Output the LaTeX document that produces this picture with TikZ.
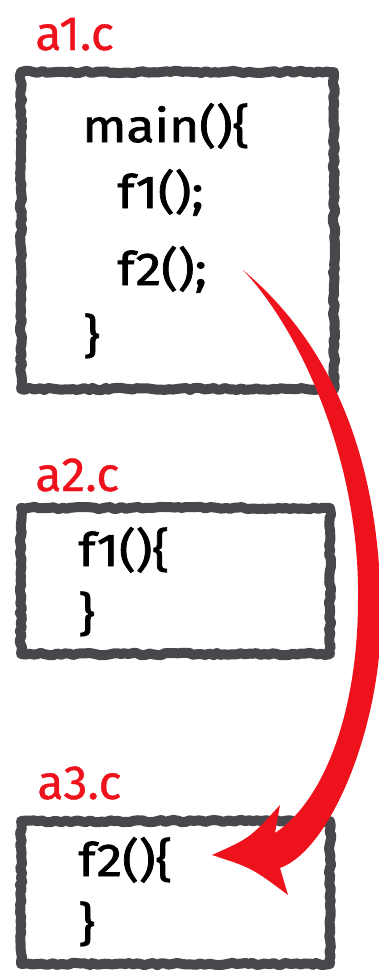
\documentclass[tikz,border=0pt]{standalone}
\usepackage{fontspec}
\setmainfont{Fira Sans}
\newfontfamily\codefont[FakeStretch=1.12,FakeBold=1.6]{Fira Sans}
\newfontfamily\namefont[FakeBold=0.8]{Fira Sans}
\usetikzlibrary{positioning,decorations.pathmorphing}
\definecolor{boxgray}{RGB}{72,72,76}
\definecolor{callred}{RGB}{238,18,28}

\begin{document}
\begin{tikzpicture}[x=0.5pt,y=-0.5pt,
  filebox/.style={draw=boxgray,line width=5pt,line join=round,
    decorate,decoration={random steps,segment length=2pt,amplitude=0.6pt}},
  filename/.style={anchor=base west,inner sep=0,text=callred,
    font=\namefont\fontsize{24}{24}\selectfont},
  codeline/.style={anchor=base west,inner sep=0,
    font=\codefont\fontsize{23}{23}\selectfont}]
  \useasboundingbox (0,0) rectangle (379,970);
  % the three source files
  \draw[filebox] (21,72) rectangle (334,389);
  \draw[filebox] (21,508) rectangle (330,654);
  \draw[filebox] (21,821) rectangle (330,964);
  \node[filename] (a1name) at (35,50) {a1.c};
  \node[filename] (a2name) at (35,491) {a2.c};
  \node[filename] (a3name) at (37,799) {a3.c};
  % a1.c
  \node[codeline] (mainhead) at (82,142) {main()\{};
  \node[codeline] (f1call) at (117,208) {f1();};
  \node[codeline] (f2call) at (117,285) {f2();};
  \node[codeline] (mainend) at (83,352) {\}};
  % a2.c
  \node[codeline] (f1head) at (78,566) {f1()\{};
  \node[codeline] (f1end) at (78,630) {\}};
  % a3.c
  \node[codeline] (f2head) at (78,876) {f2()\{};
  \node[codeline] (f2end) at (78,940) {\}};
  % the call of f2 jumps to its definition
  \coordinate (tail) at (243,270);
  \coordinate (tip) at (212,855);
  \fill[callred] (tail) .. controls (300,330) and (360,460) .. (358,600)
    .. controls (358,710) and (325,800) .. (275,833) -- (280,805)
    .. controls (250,838) .. (tip) .. controls (252,868) .. (288,895)
    -- (280,868) .. controls (330,850) and (380,730) .. (381,620)
    .. controls (381,440) and (320,335) .. (tail) -- cycle;
\end{tikzpicture}
\end{document}
